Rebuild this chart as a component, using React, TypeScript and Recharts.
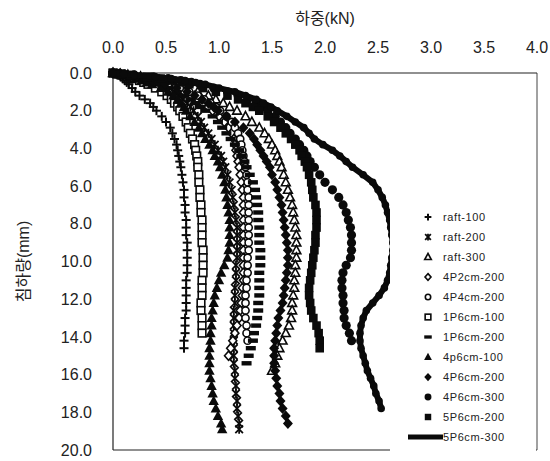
import React from 'react';
import { ScatterChart, Scatter, XAxis, YAxis, ReferenceLine, Legend } from 'recharts';

// settlement grid (mm) shared by all series
const settlementMm = [0, 0.05, 0.1, 0.2, 0.3, 0.4, 0.5, 0.6, 0.8, 1.0,
  1.2, 1.4, 1.6, 1.8, 2.0, 2.3, 2.6, 2.9, 3.2, 3.5,
  3.8, 4.1, 4.4, 4.7, 5.0, 5.4, 5.8, 6.2, 6.6, 7.0,
  7.4, 7.8, 8.2, 8.6, 9.0, 9.4, 9.8, 10.2, 10.6, 11.0,
  11.4, 11.8, 12.2, 12.6, 13.0, 13.4, 13.8, 14.2, 14.6, 15.0,
  15.4, 15.8, 16.2, 16.6, 17.0, 17.4, 17.8, 18.2, 18.6, 18.9];

const xTicks = [0, 0.5, 1.0, 1.5, 2.0, 2.5, 3.0, 3.5, 4.0];
const yTicks = [0, 2, 4, 6, 8, 10, 12, 14, 16, 18, 20];

// loads (kN) per series, one per settlement grid step
const raft100 = [0, 0.02, 0.04, 0.07, 0.09, 0.11, 0.13, 0.15, 0.18, 0.21,
  0.25, 0.3, 0.35, 0.38, 0.41, 0.46, 0.5, 0.54, 0.56, 0.58,
  0.6, 0.61, 0.62, 0.63, 0.64, 0.65, 0.66, 0.67, 0.67, 0.68,
  0.68, 0.69, 0.69, 0.69, 0.7, 0.7, 0.7, 0.7, 0.7, 0.69,
  0.69, 0.69, 0.69, 0.69, 0.68, 0.68, 0.68, 0.67, 0.67];
const raft200 = [0, 0.05, 0.09, 0.17, 0.24, 0.3, 0.36, 0.41, 0.5, 0.57,
  0.62, 0.66, 0.7, 0.73, 0.76, 0.8, 0.83, 0.86, 0.9, 0.93,
  0.96, 0.99, 1.02, 1.04, 1.06, 1.08, 1.1, 1.12, 1.13, 1.14,
  1.15, 1.16, 1.17, 1.17, 1.17, 1.17, 1.17, 1.16, 1.16, 1.16,
  1.15, 1.15, 1.15, 1.14, 1.14, 1.14, 1.14, 1.14, 1.14, 1.14,
  1.14, 1.15, 1.15, 1.16, 1.16, 1.17, 1.17, 1.18, 1.19, 1.19];
const raft300 = [0, 0.07, 0.14, 0.26, 0.36, 0.44, 0.52, 0.58, 0.7, 0.8,
  0.9, 0.97, 1.04, 1.1, 1.17, 1.25, 1.31, 1.38, 1.43, 1.47,
  1.5, 1.53, 1.55, 1.57, 1.59, 1.61, 1.63, 1.65, 1.67, 1.69,
  1.7, 1.71, 1.72, 1.73, 1.73, 1.73, 1.73, 1.72, 1.72, 1.71,
  1.71, 1.7, 1.69, 1.69, 1.68, 1.66, 1.63, 1.6, 1.57, 1.55,
  1.53, 1.5];
const p4_2cm200 = [0, 0.06, 0.11, 0.2, 0.28, 0.35, 0.42, 0.48, 0.58, 0.67,
  0.74, 0.8, 0.85, 0.9, 0.94, 1.0, 1.05, 1.09, 1.12, 1.14,
  1.15, 1.16, 1.17, 1.18, 1.19, 1.2, 1.21, 1.22, 1.23, 1.23,
  1.23, 1.23, 1.23, 1.23, 1.23, 1.23, 1.23, 1.23, 1.23, 1.23,
  1.22, 1.22, 1.21, 1.2, 1.19, 1.17, 1.15, 1.13, 1.11, 1.09];
const p4_4cm200 = [0, 0.06, 0.12, 0.22, 0.31, 0.39, 0.46, 0.52, 0.63, 0.72,
  0.8, 0.86, 0.92, 0.97, 1.01, 1.07, 1.12, 1.15, 1.18, 1.2,
  1.21, 1.22, 1.23, 1.24, 1.25, 1.26, 1.27, 1.27, 1.28, 1.28,
  1.28, 1.28, 1.28, 1.28, 1.28, 1.28, 1.27, 1.27, 1.27, 1.26,
  1.26, 1.25, 1.25, 1.25, 1.25, 1.26, 1.26, 1.27];
const p1_6cm100 = [0, 0.04, 0.08, 0.14, 0.2, 0.25, 0.29, 0.33, 0.4, 0.46,
  0.51, 0.55, 0.58, 0.61, 0.63, 0.66, 0.69, 0.71, 0.73, 0.75,
  0.77, 0.78, 0.79, 0.8, 0.8, 0.81, 0.81, 0.82, 0.82, 0.83,
  0.83, 0.84, 0.84, 0.84, 0.84, 0.85, 0.85, 0.85, 0.85, 0.84,
  0.84, 0.84, 0.83, 0.83, 0.84, 0.84, 0.84];
const p1_6cm200 = [0, 0.05, 0.1, 0.18, 0.25, 0.32, 0.38, 0.43, 0.52, 0.6,
  0.67, 0.73, 0.78, 0.82, 0.87, 0.94, 0.99, 1.03, 1.07, 1.11,
  1.15, 1.19, 1.21, 1.24, 1.26, 1.29, 1.32, 1.34, 1.35, 1.36,
  1.37, 1.37, 1.38, 1.38, 1.38, 1.39, 1.39, 1.39, 1.38, 1.38,
  1.38, 1.38, 1.37, 1.37, 1.36, 1.35, 1.33, 1.32, 1.3, 1.28,
  1.26];
const p4_6cm100 = [0, 0.04, 0.08, 0.15, 0.21, 0.27, 0.32, 0.37, 0.45, 0.52,
  0.57, 0.61, 0.64, 0.67, 0.69, 0.73, 0.77, 0.81, 0.84, 0.87,
  0.91, 0.94, 0.96, 0.99, 1.01, 1.03, 1.05, 1.06, 1.07, 1.08,
  1.09, 1.1, 1.1, 1.1, 1.1, 1.09, 1.08, 1.05, 1.02, 1.0,
  0.98, 0.96, 0.95, 0.94, 0.93, 0.93, 0.92, 0.92, 0.91, 0.91,
  0.91, 0.91, 0.92, 0.93, 0.94, 0.95, 0.97, 0.99, 1.02, 1.03];
const p4_6cm200 = [0, 0.06, 0.12, 0.22, 0.3, 0.37, 0.43, 0.49, 0.6, 0.7,
  0.77, 0.84, 0.9, 0.95, 0.99, 1.07, 1.15, 1.23, 1.29, 1.33,
  1.36, 1.39, 1.42, 1.45, 1.48, 1.5, 1.53, 1.55, 1.57, 1.59,
  1.6, 1.61, 1.62, 1.63, 1.64, 1.65, 1.65, 1.65, 1.64, 1.63,
  1.62, 1.61, 1.6, 1.58, 1.56, 1.55, 1.54, 1.53, 1.52, 1.52,
  1.52, 1.53, 1.54, 1.55, 1.57, 1.58, 1.6, 1.63, 1.65];
const p4_6cm300 = [0, 0.1, 0.2, 0.38, 0.52, 0.64, 0.74, 0.82, 0.95, 1.08,
  1.18, 1.27, 1.35, 1.41, 1.46, 1.53, 1.58, 1.63, 1.67, 1.72,
  1.76, 1.8, 1.83, 1.86, 1.9, 1.95, 2.0, 2.07, 2.13, 2.17,
  2.2, 2.22, 2.24, 2.25, 2.25, 2.25, 2.24, 2.2, 2.17, 2.16,
  2.16, 2.17, 2.17, 2.18, 2.18, 2.2, 2.23, 2.25];
const p5_6cm200 = [0, 0.08, 0.17, 0.32, 0.45, 0.56, 0.65, 0.72, 0.85, 0.97,
  1.08, 1.18, 1.25, 1.32, 1.38, 1.46, 1.52, 1.58, 1.63, 1.68,
  1.72, 1.76, 1.78, 1.81, 1.83, 1.85, 1.87, 1.88, 1.89, 1.91,
  1.92, 1.92, 1.92, 1.91, 1.91, 1.9, 1.89, 1.88, 1.87, 1.86,
  1.85, 1.85, 1.86, 1.87, 1.89, 1.92, 1.94, 1.95, 1.95];
const p5_6cm300 = [0, 0.1, 0.2, 0.4, 0.55, 0.68, 0.78, 0.87, 1.0, 1.15,
  1.25, 1.35, 1.42, 1.49, 1.55, 1.64, 1.72, 1.8, 1.85, 1.9,
  1.98, 2.07, 2.14, 2.2, 2.26, 2.36, 2.45, 2.5, 2.54, 2.57,
  2.59, 2.61, 2.62, 2.63, 2.64, 2.64, 2.63, 2.62, 2.61, 2.59,
  2.56, 2.51, 2.45, 2.39, 2.36, 2.34, 2.33, 2.33, 2.34, 2.36,
  2.38, 2.4, 2.43, 2.46, 2.48, 2.51, 2.53];

type Kind = 'plus' | 'asterisk' | 'triOpen' | 'diaOpen' | 'circOpen' | 'sqOpen' | 'dash' |
  'triFill' | 'diaFill' | 'circFill' | 'sqFill' | 'thick';

const seriesList: { name: string; loads: number[]; kind: Kind }[] = [
  { name: 'raft-100', loads: raft100, kind: 'plus' },
  { name: 'raft-200', loads: raft200, kind: 'asterisk' },
  { name: 'raft-300', loads: raft300, kind: 'triOpen' },
  { name: '4P2cm-200', loads: p4_2cm200, kind: 'diaOpen' },
  { name: '4P4cm-200', loads: p4_4cm200, kind: 'circOpen' },
  { name: '1P6cm-100', loads: p1_6cm100, kind: 'sqOpen' },
  { name: '1P6cm-200', loads: p1_6cm200, kind: 'dash' },
  { name: '4p6cm-100', loads: p4_6cm100, kind: 'triFill' },
  { name: '4P6cm-200', loads: p4_6cm200, kind: 'diaFill' },
  { name: '4P6cm-300', loads: p4_6cm300, kind: 'circFill' },
  { name: '5P6cm-200', loads: p5_6cm200, kind: 'sqFill' },
  { name: '5P6cm-300', loads: p5_6cm300, kind: 'thick' },
];

const INK = '#0a0a0a';
const FONT = '"Liberation Sans", Arial, "Noto Sans CJK KR", sans-serif';

function drawMarker(kind: Kind, cx: number, cy: number, k: number) {
  const sw = 1.6;
  switch (kind) {
    case 'plus':
      return (
        <g stroke={INK} strokeWidth={2}>
          <line x1={cx - 4.5 * k} y1={cy} x2={cx + 4.5 * k} y2={cy} />
          <line x1={cx} y1={cy - 4.5 * k} x2={cx} y2={cy + 4.5 * k} />
        </g>
      );
    case 'asterisk':
      return (
        <g stroke={INK} strokeWidth={1.8}>
          <line x1={cx - 3.8 * k} y1={cy - 3.8 * k} x2={cx + 3.8 * k} y2={cy + 3.8 * k} />
          <line x1={cx - 3.8 * k} y1={cy + 3.8 * k} x2={cx + 3.8 * k} y2={cy - 3.8 * k} />
          <line x1={cx} y1={cy - 4.5 * k} x2={cx} y2={cy + 4.5 * k} />
        </g>
      );
    case 'triOpen':
      return <polygon points={`${cx},${cy - 4.8 * k} ${cx + 4.4 * k},${cy + 3.4 * k} ${cx - 4.4 * k},${cy + 3.4 * k}`} fill="#fff" stroke={INK} strokeWidth={sw} />;
    case 'diaOpen':
      return <polygon points={`${cx},${cy - 4.5 * k} ${cx + 4 * k},${cy} ${cx},${cy + 4.5 * k} ${cx - 4 * k},${cy}`} fill="#fff" stroke={INK} strokeWidth={sw} />;
    case 'circOpen':
      return <circle cx={cx} cy={cy} r={3.6 * k} fill="#fff" stroke={INK} strokeWidth={sw} />;
    case 'sqOpen':
      return <rect x={cx - 3.8 * k} y={cy - 3.8 * k} width={7.6 * k} height={7.6 * k} fill="#fff" stroke={INK} strokeWidth={sw} />;
    case 'dash':
      return <rect x={cx - 5 * k} y={cy - 2.2 * k} width={10 * k} height={4.4 * k} fill={INK} />;
    case 'triFill':
      return <polygon points={`${cx},${cy - 5.6 * k} ${cx + 5.2 * k},${cy + 4 * k} ${cx - 5.2 * k},${cy + 4 * k}`} fill={INK} />;
    case 'diaFill':
      return <polygon points={`${cx},${cy - 5.5 * k} ${cx + 5 * k},${cy} ${cx},${cy + 5.5 * k} ${cx - 5 * k},${cy}`} fill={INK} />;
    case 'circFill':
      return <circle cx={cx} cy={cy} r={4.6 * k} fill={INK} />;
    case 'sqFill':
      return <rect x={cx - 4.3 * k} y={cy - 4.3 * k} width={8.6 * k} height={8.6 * k} fill={INK} />;
    case 'thick':
    default:
      return <circle cx={cx} cy={cy} r={3.8 * k} fill={INK} />;
  }
}

const makeShape = (kind: Kind) => (props: any) => {
  const { cx, cy } = props;
  if (cx == null || cy == null) return <g />;
  return drawMarker(kind, cx, cy, 1);
};

const toPoints = (loads: number[]) => loads.map((load, i) => ({ load, settle: settlementMm[i] }));

const renderLegend = () => (
  <div
    style={{
      background: '#fff',
      width: 146,
      height: 256,
      paddingTop: 7,
      boxSizing: 'border-box',
      fontFamily: FONT,
      fontSize: 11,
      color: '#222',
    }}
  >
    {seriesList.map((s) => (
      <div key={s.name} style={{ display: 'flex', alignItems: 'center', height: 20 }}>
        <svg width={53} height={20} style={{ display: 'block', flex: 'none' }}>
          {s.kind === 'thick' ? (
            <line x1={18} y1={10} x2={53} y2={10} stroke={INK} strokeWidth={5} />
          ) : (
            drawMarker(s.kind, 38, 10, 0.75)
          )}
        </svg>
        <span style={{ letterSpacing: 0.6, whiteSpace: 'nowrap' }}>{s.name}</span>
      </div>
    ))}
  </div>
);

export default function App() {
  return (
    <div style={{ position: 'absolute', left: 0, top: 0, width: 550, height: 461, background: '#fff' }}>
      <ScatterChart width={550} height={461} margin={{ top: 43, right: 13, bottom: 11, left: 8 }}>
        <XAxis
          type="number"
          dataKey="load"
          orientation="top"
          domain={[0, 4]}
          ticks={xTicks}
          interval={0}
          tickFormatter={(v: number) => v.toFixed(1)}
          height={30}
          tickSize={0}
          tickLine={false}
          tickMargin={20}
          axisLine={{ stroke: '#222', strokeWidth: 1.2 }}
          tick={{ fontSize: 16, fill: '#222', fontFamily: FONT }}
          label={{ value: '하중(kN)', position: 'top', offset: 19, fontSize: 16, fill: '#222', fontFamily: FONT }}
        />
        <YAxis
          type="number"
          dataKey="settle"
          reversed
          domain={[0, 20]}
          ticks={yTicks}
          interval={0}
          tickFormatter={(v: number) => v.toFixed(1)}
          width={105}
          tickSize={0}
          tickLine={false}
          tickMargin={21}
          axisLine={{ stroke: '#222', strokeWidth: 1.2 }}
          tick={{ fontSize: 16, fill: '#222', fontFamily: FONT }}
          label={{
            value: '침하량(mm)',
            angle: -90,
            position: 'insideLeft',
            offset: 15,
            fontSize: 16,
            fill: '#222',
            fontFamily: FONT,
            style: { textAnchor: 'middle' },
          }}
        />
        <ReferenceLine y={20} stroke="#222" strokeWidth={1.2} />
        <ReferenceLine x={4} stroke="#444" strokeWidth={1} />
        {seriesList.map((s) => (
          <Scatter
            key={s.name}
            name={s.name}
            data={toPoints(s.loads)}
            shape={makeShape(s.kind)}
            line={s.kind === 'thick' ? { stroke: INK, strokeWidth: 6 } : false}
            lineType="joint"
            isAnimationActive={false}
          />
        ))}
        <Legend
          layout="vertical"
          align="center"
          verticalAlign="middle"
          content={renderLegend}
          wrapperStyle={{ left: 390, top: 200, width: 146, height: 256 }}
        />
      </ScatterChart>
    </div>
  );
}
